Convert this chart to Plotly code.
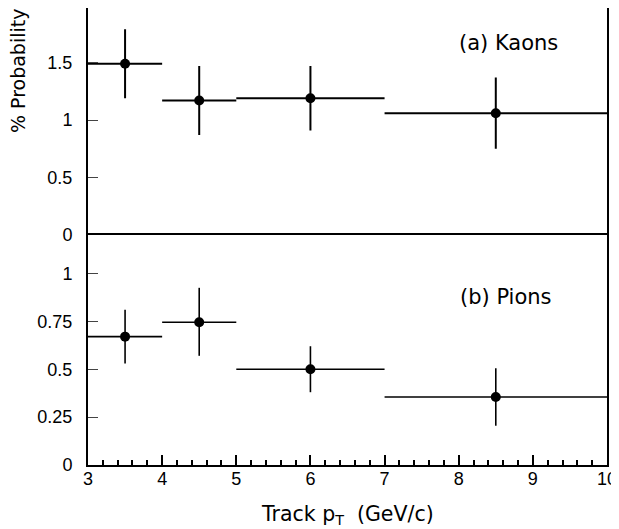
import plotly.graph_objects as go
from plotly.subplots import make_subplots

# Data
bin_centers = [3.5, 4.5, 6.0, 8.5]
bin_half_widths = [0.5, 0.5, 1.0, 1.5]

kaon_prob = [1.49, 1.17, 1.19, 1.06]
kaon_err = [0.30, 0.30, 0.28, 0.31]

pion_prob = [0.67, 0.745, 0.50, 0.355]
pion_err_plus = [0.14, 0.18, 0.12, 0.15]
pion_err_minus = [0.14, 0.175, 0.12, 0.15]

top_ticks = [0, 0.5, 1, 1.5]
top_ticklabels = ["0", "0.5", "1", "1.5"]
bot_ticks = [0, 0.25, 0.5, 0.75, 1]
bot_ticklabels = ["0", "0.25", "0.5", "0.75", "1"]
x_ticks = [3, 4, 5, 6, 7, 8, 9, 10]

fig = make_subplots(rows=2, cols=1, shared_xaxes=True, vertical_spacing=0)

fig.add_trace(go.Scatter(
    x=bin_centers, y=kaon_prob, mode="markers",
    marker=dict(color="black", size=10),
    error_x=dict(type="data", array=bin_half_widths, color="black", thickness=2, width=0),
    error_y=dict(type="data", array=kaon_err, color="black", thickness=2, width=0),
    showlegend=False), row=1, col=1)

fig.add_trace(go.Scatter(
    x=bin_centers, y=pion_prob, mode="markers",
    marker=dict(color="black", size=10),
    error_x=dict(type="data", array=bin_half_widths, color="black", thickness=1.6, width=0),
    error_y=dict(type="data", array=pion_err_plus, arrayminus=pion_err_minus,
                 color="black", thickness=1.6, width=0),
    showlegend=False), row=2, col=1)

tickfont = dict(family="Liberation Sans, Arial, sans-serif", size=18, color="black")

fig.update_xaxes(range=[3, 10], showline=True, linecolor="black", linewidth=2,
                 showgrid=False, zeroline=False, automargin=False)
# top panel: only its top frame line; the divider comes from the lower panel's mirror
fig.update_xaxes(showticklabels=False, ticks="", side="top", mirror=False, row=1, col=1)
fig.update_xaxes(mirror=True, tickmode="array", tickvals=x_ticks, ticks="inside", ticklen=10,
                 tickwidth=1.5, tickcolor="black", tickfont=tickfont,
                 ticklabelstandoff=-4,
                 minor=dict(ticks="inside", dtick=0.2, ticklen=5, tickwidth=1.5, tickcolor="black"),
                 row=2, col=1)

fig.update_yaxes(showline=True, linecolor="black", linewidth=2, mirror=True,
                 showgrid=False, zeroline=False, ticks="inside", ticklen=10,
                 tickwidth=1.2, tickcolor="#444", tickfont=tickfont, automargin=False,
                 ticklabelstandoff=10)
fig.update_yaxes(range=[0, 1.974], tickmode="array", tickvals=top_ticks,
                 ticktext=top_ticklabels, row=1, col=1)
fig.update_yaxes(range=[0, 1.2], tickmode="array", tickvals=bot_ticks,
                 ticktext=bot_ticklabels, row=2, col=1)

fig.layout.yaxis.domain = [0.503, 1.0]
fig.layout.yaxis2.domain = [0.0, 0.503]

annfont = dict(family="DejaVu Sans, sans-serif", size=21, color="black")
fig.add_annotation(text="(a) Kaons", xref="paper", yref="paper", x=0.811, y=0.923,
                   showarrow=False, font=annfont, xanchor="center", yanchor="middle")
fig.add_annotation(text="(b) Pions", xref="paper", yref="paper", x=0.805, y=0.368,
                   showarrow=False, font=annfont, xanchor="center", yanchor="middle")
fig.add_annotation(text="Track p<sub>T</sub>  (GeV/c)", xref="paper", yref="paper",
                   x=0.5, y=-0.109, showarrow=False,
                   font=dict(family="DejaVu Sans, sans-serif", size=20.5, color="black"),
                   xanchor="center", yanchor="middle")
fig.add_annotation(text="% Probability", xref="paper", yref="paper", x=-0.135, y=0.864,
                   textangle=-90, showarrow=False,
                   font=dict(family="DejaVu Sans, sans-serif", size=19, color="black"),
                   xanchor="center", yanchor="middle")

# page body adds an 8px offset; margins compensate so the frame lands where it should
fig.update_layout(width=619, height=529, plot_bgcolor="white", paper_bgcolor="white",
                  margin=dict(l=80, r=20, t=0, b=72, autoexpand=False))

fig.write_html("out.html")
